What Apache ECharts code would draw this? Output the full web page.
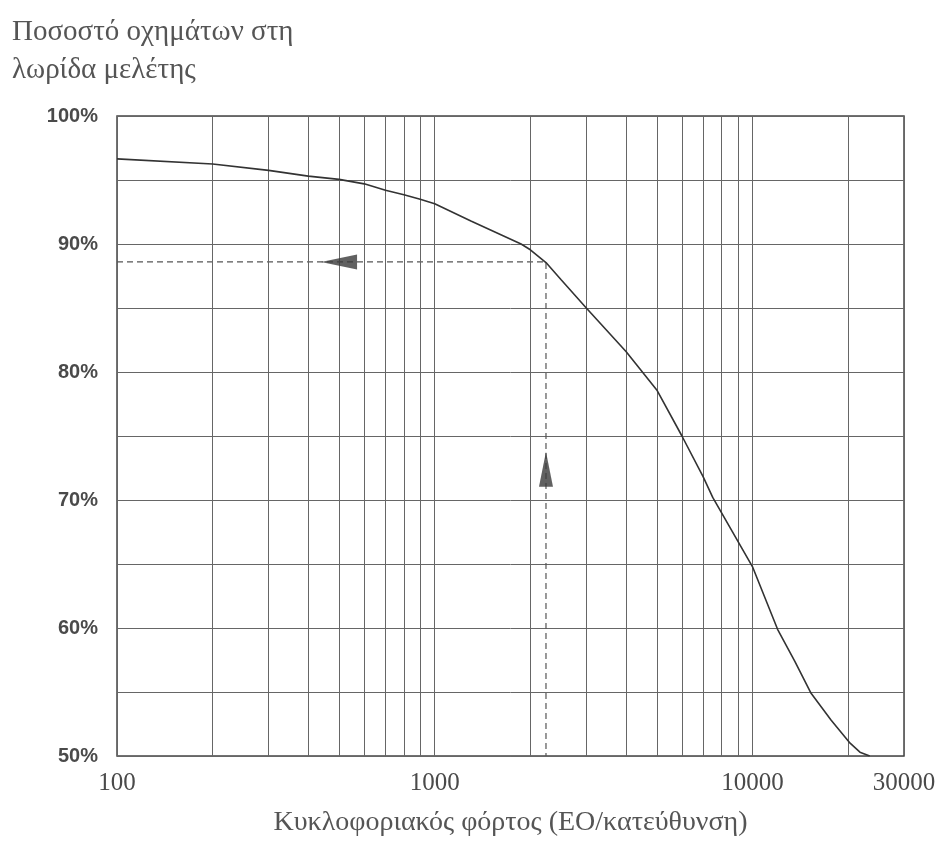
<!DOCTYPE html>
<html>
<head>
<meta charset="utf-8">
<script src="https://cdn.jsdelivr.net/npm/echarts@6/dist/echarts.min.js"></script>
<style>
  html, body { margin: 0; padding: 0; background: #fff; }
  #chart { width: 939px; height: 842px; }
</style>
</head>
<body>
<div id="chart"></div>
<script>
// curve
const loadValues = [100, 200, 300, 400, 500, 600, 700, 800, 900, 1000, 1300, 1870, 2000, 2240, 2500, 3000, 4000, 5000, 6000, 7000, 7500, 10000, 12000, 13600, 15300, 17700, 20300, 21800, 23400];
const sharePct = [96.65, 96.25, 95.75, 95.3, 95.05, 94.7, 94.2, 93.85, 93.5, 93.15, 91.8, 90.0, 89.55, 88.55, 87.2, 85.0, 81.6, 78.6, 75.0, 71.8, 70.2, 64.8, 59.9, 57.4, 54.9, 52.8, 51.0, 50.3, 50.0];

// example reading (dashed guide lines + arrows)
const exampleLoad = 2240;
const examplePct = 88.6;
const leftArrow = [500, 88.6];
const upArrow = [2240, 72.4];

// vertical grid lines between the labelled decades
const minorLoads = [200, 300, 400, 500, 600, 700, 800, 900, 2000, 3000, 4000, 5000, 6000, 7000, 8000, 9000, 20000];

const chart = echarts.init(document.getElementById('chart'));

const gridColor = '#666';
const textColor = '#4a4a4a';

const option = {
  backgroundColor: '#fff',
  animation: false,
  title: {
    text: 'Ποσοστό οχημάτων στη\nλωρίδα μελέτης',
    left: 12,
    top: 13,
    padding: 0,
    textStyle: {
      fontFamily: 'Liberation Serif',
      fontSize: 29,
      fontWeight: 'normal',
      lineHeight: 38,
      color: '#555'
    }
  },
  grid: {
    left: 117,
    right: 35,
    top: 116,
    bottom: 84,
    show: true,
    borderColor: '#444',
    borderWidth: 1.5
  },
  xAxis: {
    type: 'log',
    logBase: 10,
    min: 100,
    max: 30000,
    name: 'Κυκλοφοριακός φόρτος (ΕΟ/κατεύθυνση)',
    nameLocation: 'middle',
    nameGap: 53,
    nameTextStyle: {
      fontFamily: 'Liberation Serif',
      fontSize: 28,
      color: '#555'
    },
    axisLine: { show: false },
    axisTick: { show: false },
    axisLabel: {
      margin: 15,
      fontFamily: 'Liberation Serif',
      fontSize: 25,
      color: textColor,
      showMinLabel: true,
      showMaxLabel: true,
      formatter: function (v) { return String(Math.round(v)); }
    },
    splitLine: { show: true, lineStyle: { color: gridColor, width: 1 } }
  },
  yAxis: {
    type: 'value',
    min: 50,
    max: 100,
    interval: 10,
    axisLine: { show: false },
    axisTick: { show: false },
    minorTick: { show: false, splitNumber: 2 },
    minorSplitLine: { show: true, lineStyle: { color: gridColor, width: 1 } },
    splitLine: { show: true, lineStyle: { color: gridColor, width: 1 } },
    axisLabel: {
      margin: 19,
      fontFamily: 'Liberation Sans',
      fontWeight: 'bold',
      fontSize: 20,
      color: textColor,
      formatter: '{value}%'
    }
  },
  series: [
    {
      name: 'grid',
      type: 'line',
      data: [],
      silent: true,
      markLine: {
        silent: true,
        symbol: 'none',
        label: { show: false },
        lineStyle: { color: gridColor, width: 1, type: 'solid' },
        data: minorLoads.map(function (v) { return { xAxis: v }; })
      }
    },
    {
      name: 'guide',
      type: 'line',
      silent: true,
      symbol: 'none',
      lineStyle: { color: '#555', width: 1.2, type: [6, 4] },
      data: [[100, examplePct], [exampleLoad, examplePct], [exampleLoad, 50]]
    },
    {
      name: 'curve',
      type: 'line',
      symbol: 'none',
      lineStyle: { color: '#333', width: 1.6 },
      data: loadValues.map(function (x, i) { return [x, sharePct[i]]; }),
      z: 5
    },
    {
      name: 'arrows',
      type: 'scatter',
      silent: true,
      symbol: 'triangle',
      itemStyle: { color: '#3a3a3a' },
      data: [
        { value: leftArrow, symbolSize: [15, 36], symbolRotate: 90 },
        { value: upArrow, symbolSize: [14, 35], symbolRotate: 0 }
      ],
      z: 6
    }
  ]
};

chart.setOption(option);
</script>
</body>
</html>
